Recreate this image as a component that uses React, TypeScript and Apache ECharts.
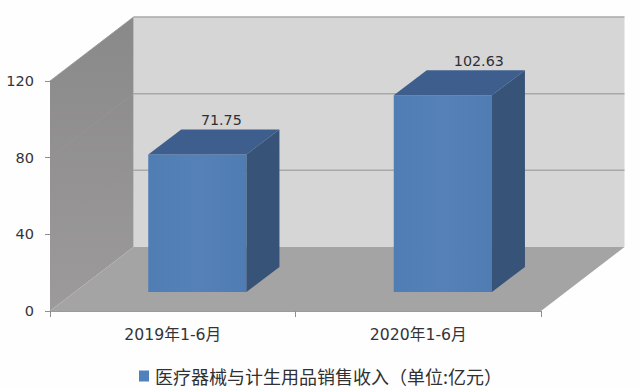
import React, { useEffect, useRef } from "react";
import * as echarts from "echarts";

const categories = ["2019年1-6月", "2020年1-6月"];
const revenue = [71.75, 102.63];
const yTicks = [0, 40, 80, 120];
const seriesName = "医疗器械与计生用品销售收入（单位:亿元）";

const FONT = "'DejaVu Sans', 'Noto Sans CJK SC', sans-serif";
const CJK_FONT = "'Noto Sans CJK SC', sans-serif";
const WALL_DX = 83.5;
const WALL_DY = -64;
const BAR_GAP_DX = 24.6;
const BAR_GAP_DY = -19;
const BAR_DX = 33;
const BAR_DY = -25;
const LABEL_DX = [24, 36];

const poly = (points: number[][], fill: any, extra: any = {}) => ({
  type: "polygon",
  shape: { points },
  style: { fill, ...extra },
  silent: true,
});
const seg = (a: number[], b: number[], stroke: string, lineWidth = 1) => ({
  type: "line",
  shape: { x1: a[0], y1: a[1], x2: b[0], y2: b[1] },
  style: { stroke, lineWidth },
  silent: true,
});

const renderWalls = (params: any, api: any) => {
  const cs = params.coordSys;
  const x0 = cs.x;
  const x1 = cs.x + cs.width;
  const yAt = (v: number) => api.coord([0, v])[1];
  const y0 = yAt(0);
  const yTop = yAt(yTicks[yTicks.length - 1]);
  const bx0 = x0 + WALL_DX;
  const bx1 = x1 + WALL_DX;
  const children: any[] = [
    poly(
      [[bx0, yTop + WALL_DY], [bx1, yTop + WALL_DY], [bx1, y0 + WALL_DY], [bx0, y0 + WALL_DY]],
      "#d7d6d7",
    ),
    poly(
      [[x0, yTop], [bx0, yTop + WALL_DY], [bx0, y0 + WALL_DY], [x0, y0]],
      new echarts.graphic.LinearGradient(0, 0, 0, 1, [
        { offset: 0, color: "#8a8989" },
        { offset: 1, color: "#9c9a9a" },
      ]),
    ),
    poly(
      [[x0, y0], [x1, y0], [bx1, y0 + WALL_DY], [bx0, y0 + WALL_DY]],
      "#a5a4a4",
    ),
  ];
  yTicks.forEach((t) => {
    const y = yAt(t);
    if (t > 0) {
      children.push(seg([bx0, y + WALL_DY], [bx1, y + WALL_DY], "#a9a8a8", 1.5));
      children.push(seg([x0, y], [bx0, y + WALL_DY], "#979696", 0.8));
    }
  });
  return { type: "group", children };
};

const renderBar = (params: any, api: any) => {
  const idx = api.value(0);
  const val = api.value(1);
  const base = api.coord([idx, 0]);
  const top = api.coord([idx, val]);
  const w = api.size([1, 0])[0] * 0.4;
  const cx = base[0] + BAR_GAP_DX;
  const l = cx - w / 2;
  const r = cx + w / 2;
  const b = base[1] + BAR_GAP_DY;
  const t = top[1] + BAR_GAP_DY;
  return {
    type: "group",
    children: [
      poly([[l, t], [r, t], [r, b], [l, b]],
        new echarts.graphic.LinearGradient(0, 0, 1, 0, [
          { offset: 0, color: "#4f7db4" },
          { offset: 0.5, color: "#5581b8" },
          { offset: 1, color: "#4f7cb2" },
        ])),
      poly([[l, t], [r, t], [r + BAR_DX, t + BAR_DY], [l + BAR_DX, t + BAR_DY]], "#3e5f8e"),
      poly([[r, t], [r + BAR_DX, t + BAR_DY], [r + BAR_DX, b + BAR_DY], [r, b]], "#375377"),
      {
        type: "text",
        silent: true,
        style: {
          x: cx + LABEL_DX[idx],
          y: t + BAR_DY - 9.5,
          text: String(val),
          fill: "#2f2f33",
          font: `14.3px ${FONT}`,
          align: "center",
          verticalAlign: "middle",
        },
      },
    ],
  };
};

export default function App() {
  const ref = useRef<HTMLDivElement>(null);
  useEffect(() => {
    const chart = echarts.init(ref.current!, undefined, { renderer: "svg" });
    chart.setOption({
      animation: false,
      backgroundColor: "#fefefe",
      grid: { left: 50, right: 99, top: 81, bottom: 79 },
      legend: {
        data: [seriesName],
        left: 139,
        top: 367,
        icon: "rect",
        itemWidth: 10,
        itemHeight: 11,
        itemGap: 0,
        padding: 0,
        selectedMode: false,
        textStyle: { fontFamily: CJK_FONT, fontSize: 18, color: "#303033", padding: [0, 0, 0, 1] },
      },
      xAxis: {
        type: "category",
        data: categories,
        axisLine: { lineStyle: { color: "#9a9a9a" } },
        axisTick: { show: true, length: 6, lineStyle: { color: "#8f8f8f" } },
        axisLabel: { fontFamily: FONT, fontSize: 15.7, color: "#343438", margin: 16 },
        splitLine: { show: false },
      },
      yAxis: {
        type: "value",
        min: 0,
        max: yTicks[yTicks.length - 1],
        interval: 40,
        axisLine: { show: true, lineStyle: { color: "#9a9a9a" } },
        axisTick: { show: true, length: 5, lineStyle: { color: "#8f8f8f" } },
        axisLabel: { fontFamily: FONT, fontSize: 14.5, color: "#343438", margin: 16 },
        splitLine: { show: false },
      },
      series: [
        {
          type: "custom",
          name: "walls",
          silent: true,
          z: 1,
          data: [[0, 0]],
          renderItem: renderWalls,
        },
        {
          type: "custom",
          name: seriesName,
          z: 3,
          itemStyle: { color: "#4f81bd" },
          encode: { x: 0, y: 1 },
          data: revenue.map((v, i) => [i, v]),
          renderItem: renderBar,
        },
      ],
    });
    return () => chart.dispose();
  }, []);
  return (
    <div
      ref={ref}
      style={{ position: "absolute", left: 0, top: 0, width: 640, height: 390 }}
    />
  );
}
